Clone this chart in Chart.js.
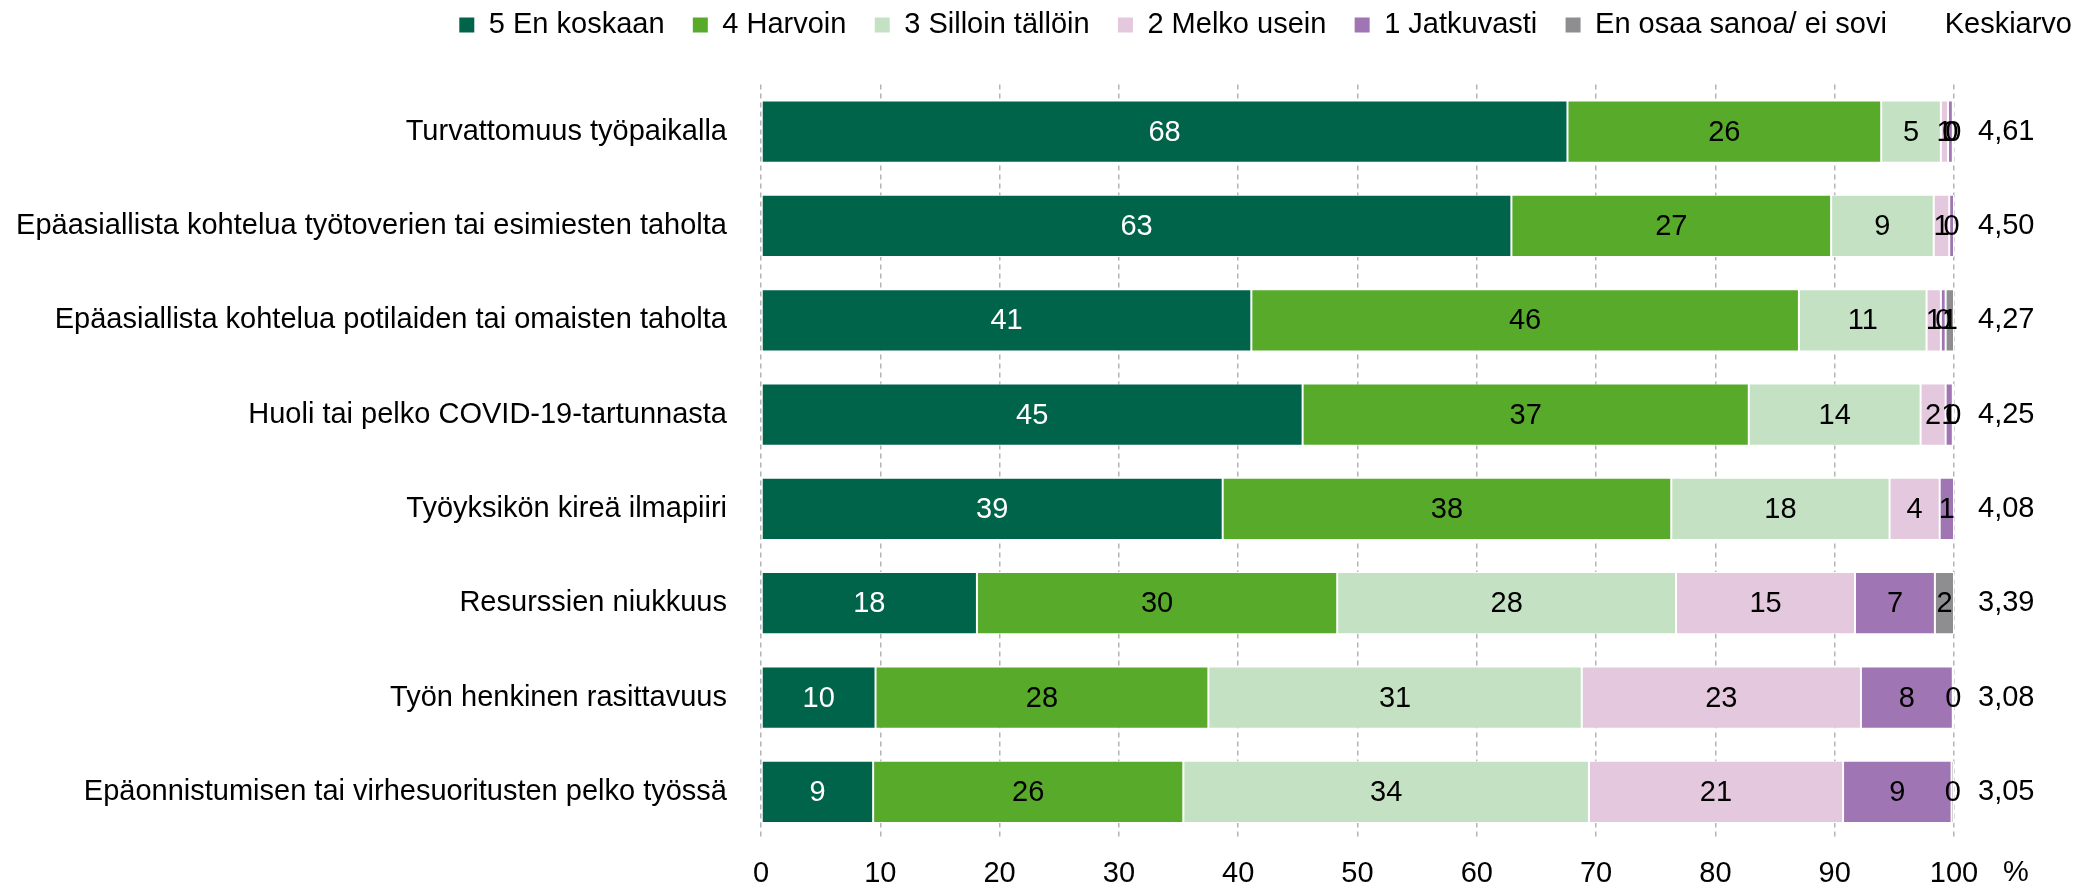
<!DOCTYPE html>
<html>
<head>
<meta charset="utf-8">
<script src="https://cdn.jsdelivr.net/npm/chart.js@4/dist/chart.umd.min.js"></script>
<style>
  html, body { margin: 0; padding: 0; background: #fff; }
  #wrap { width: 2088px; height: 887px; }
</style>
</head>
<body>
<div id="wrap"><canvas id="chart"></canvas></div>
<script>
// kysymykset
const categories = [
  'Turvattomuus työpaikalla',
  'Epäasiallista kohtelua työtoverien tai esimiesten taholta',
  'Epäasiallista kohtelua potilaiden tai omaisten taholta',
  'Huoli tai pelko COVID-19-tartunnasta',
  'Työyksikön kireä ilmapiiri',
  'Resurssien niukkuus',
  'Työn henkinen rasittavuus',
  'Epäonnistumisen tai virhesuoritusten pelko työssä'
];

// osuudet (%)
const enKoskaan   = [67.6, 62.9, 41.1, 45.4, 38.7, 18.1, 9.6, 9.4];
const harvoin     = [26.3, 26.8, 45.9, 37.4, 37.6, 30.2, 27.9, 26.0];
const silloin     = [5.0, 8.6, 10.7, 14.4, 18.3, 28.4, 31.3, 34.0];
const melkoUsein  = [0.6, 1.3, 1.2, 2.1, 4.2, 15.0, 23.4, 21.3];
const jatkuvasti  = [0.4, 0.4, 0.4, 0.6, 1.2, 6.7, 7.7, 9.1];
const eiOsaa      = [0.1, null, 0.7, 0.1, null, 1.6, 0.1, 0.2];

// keskiarvot
const keskiarvot = ['4,61', '4,50', '4,27', '4,25', '4,08', '3,39', '3,08', '3,05'];

const xTicks = [0, 10, 20, 30, 40, 50, 60, 70, 80, 90, 100];

const FONT = '"Liberation Sans", Arial, sans-serif';

const series = [
  { label: '5 En koskaan', data: enKoskaan, color: '#00644b', text: '#ffffff' },
  { label: '4 Harvoin', data: harvoin, color: '#58ab2a', text: '#000000' },
  { label: '3 Silloin tällöin', data: silloin, color: '#c4e2c3', text: '#000000' },
  { label: '2 Melko usein', data: melkoUsein, color: '#e4c8de', text: '#000000' },
  { label: '1 Jatkuvasti', data: jatkuvasti, color: '#a075b3', text: '#000000' },
  { label: 'En osaa sanoa/ ei sovi', data: eiOsaa, color: '#8e8e90', text: '#000000' }
];

// arvot palkkien keskelle
const barLabels = {
  id: 'barLabels',
  afterDatasetsDraw(chart) {
    const ctx = chart.ctx;
    ctx.save();
    ctx.font = '29px ' + FONT;
    ctx.textAlign = 'center';
    ctx.textBaseline = 'middle';
    chart.data.datasets.forEach((ds, i) => {
      const meta = chart.getDatasetMeta(i);
      meta.data.forEach((el, j) => {
        const v = ds.data[j];
        if (v === null || v === undefined) return;
        ctx.fillStyle = series[i].text;
        ctx.fillText(String(Math.round(v)), (el.x + el.base) / 2, el.y + 1);
      });
    });
    ctx.restore();
  }
};

// "%" akselin perään
const percentSign = {
  id: 'percentSign',
  afterDraw(chart) {
    const ctx = chart.ctx;
    const x = chart.scales.x;
    ctx.save();
    ctx.font = '29px ' + FONT;
    ctx.fillStyle = '#000';
    ctx.textAlign = 'left';
    ctx.textBaseline = 'middle';
    ctx.fillText('%', x.right + 49, 873);
    ctx.restore();
  }
};

// selite yhdelle riville, korkeus kiinni jotta kuva-ala alkaa oikeasta kohdasta
const legendHeight = {
  id: 'legendHeight',
  afterInit(chart) {
    const lg = chart.legend;
    if (!lg) return;
    const origFit = lg.fit;
    lg.fit = function () {
      this.maxWidth = 2400;
      origFit.call(this);
      this.height = 102.3;
    };
  },
  afterLayout(chart) {
    const lg = chart.legend;
    if (!lg || !lg.lineWidths) return;
    lg.right = 2101.3;
    lg.width = lg.right - lg.left;
    lg.lineWidths[0] += 1;
  }
};

const datasets = series.map(s => ({
  label: s.label,
  data: s.data,
  backgroundColor: s.color,
  borderColor: '#ffffff',
  borderWidth: 1,
  borderSkipped: false,
  barPercentage: 0.66,
  categoryPercentage: 1.0
}));

new Chart(document.getElementById('chart'), {
  type: 'bar',
  data: { labels: categories, datasets: datasets },
  options: {
    indexAxis: 'y',
    responsive: true,
    maintainAspectRatio: false,
    animation: false,
    layout: { padding: { left: 0, right: -13, top: -17.8, bottom: 0 } },
    plugins: {
      tooltip: { enabled: false },
      legend: {
        position: 'top',
        align: 'end',
        labels: {
          boxWidth: 15,
          boxHeight: 15,
          padding: 28.3,
          color: '#000',
          font: { family: FONT, size: 29 },
          generateLabels(chart) {
            const items = series.map((s, i) => ({
              text: s.label,
              fillStyle: s.color,
              strokeStyle: s.color,
              lineWidth: 0,
              datasetIndex: i,
              hidden: false
            }));
            items.push({ text: 'Keskiarvo', fillStyle: 'rgba(0,0,0,0)', strokeStyle: 'rgba(0,0,0,0)', lineWidth: 0, hidden: false });
            return items;
          }
        },
        onClick: null
      }
    },
    scales: {
      x: {
        stacked: true,
        min: 0,
        max: 100,
        afterBuildTicks(scale) { scale.ticks = xTicks.map(v => ({ value: v })); },
        afterFit(scale) { scale.height = 48; },
        border: { display: false, dash: [5, 4] },
        grid: { color: '#b4b4b4', lineWidth: 1.5, drawTicks: false },
        ticks: { color: '#000', padding: 18, font: { family: FONT, size: 29 } }
      },
      y: {
        stacked: true,
        offset: true,
        afterFit(scale) { scale.width = 761; },
        border: { display: false },
        grid: { display: false },
        ticks: { color: '#000', padding: 26, font: { family: FONT, size: 29 } }
      },
      y2: {
        type: 'category',
        labels: keskiarvot,
        position: 'right',
        offset: true,
        afterFit(scale) { scale.width = 147; },
        border: { display: false },
        grid: { display: false },
        ticks: { color: '#000', padding: 16, crossAlign: 'near', font: { family: FONT, size: 29 } }
      }
    }
  },
  plugins: [barLabels, percentSign, legendHeight]
});
</script>
</body>
</html>
